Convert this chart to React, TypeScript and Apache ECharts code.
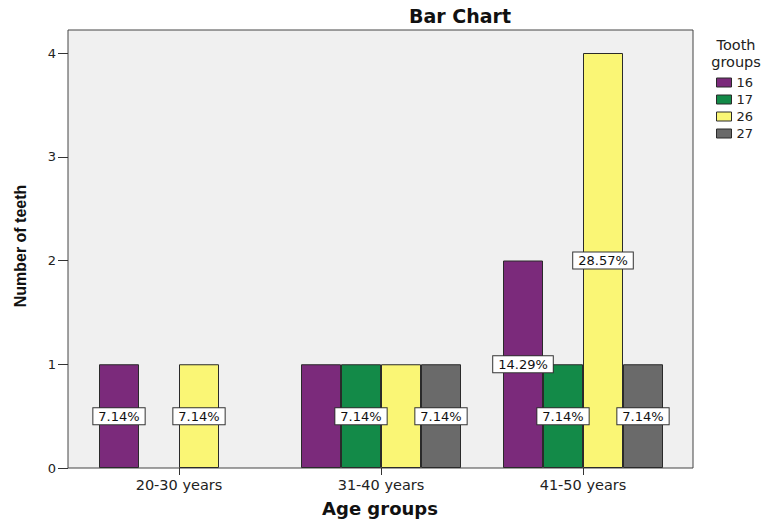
import React, { useEffect, useRef } from "react";
import * as echarts from "echarts";

const categories = ["20-30 years", "31-40 years", "41-50 years"];
const groups = ["16", "17", "26", "27"];
const counts16 = [1, 1, 2];
const counts17 = [null, 1, 1];
const counts26 = [1, 1, 4];
const counts27 = [null, 1, 1];
const pct16 = ["7.14%", null, "14.29%"];
const pct17 = [null, "7.14%", "7.14%"];
const pct26 = ["7.14%", null, "28.57%"];
const pct27 = [null, "7.14%", "7.14%"];
const yTicks = [0, 1, 2, 3, 4];

const colors = ["#7b2a7b", "#138a48", "#faf675", "#6a6a6a"];
const FONT = "DejaVu Sans";

export default function App() {
  const ref = useRef<HTMLDivElement>(null);
  useEffect(() => {
    if (!ref.current) return;
    const chart = echarts.init(ref.current, null, { renderer: "svg" });
    const counts = [counts16, counts17, counts26, counts27];
    const pcts = [pct16, pct17, pct26, pct27];
    const series = groups.map((g, si) => ({
      name: g,
      type: "bar",
      xAxisIndex: 0,
      yAxisIndex: 0,
      barWidth: 40,
      barGap: "0%",
      itemStyle: { color: colors[si], borderColor: "#2a2a2a", borderWidth: 1 },
      data: counts[si].map((v, i) => ({
        value: v === null ? "-" : v,
        label: {
          show: pcts[si][i] !== null,
          formatter: pcts[si][i] ?? "",
        },
      })),
      label: {
        position: "inside",
        backgroundColor: "#ffffff",
        borderColor: "#333",
        borderWidth: 1,
        padding: [2, 5, 1, 5],
        color: "#111",
        fontSize: 13,
        fontFamily: FONT,
      },
    }));
    chart.setOption({
      animation: false,
      backgroundColor: "#ffffff",
      grid: [
        { left: 78, right: 81, top: 53, bottom: 51 },
        {
          left: 68,
          right: 72,
          top: 30,
          bottom: 51,
          show: true,
          backgroundColor: "#f0f0f0",
          borderColor: "#444",
          borderWidth: 1,
        },
      ],
      xAxis: [
        {
          type: "category",
          gridIndex: 0,
          data: categories,
          axisLine: { show: false },
          axisTick: { show: true, alignWithLabel: true, length: 7, lineStyle: { color: "#333" } },
          axisLabel: { color: "#222", fontSize: 14.5, fontFamily: FONT, margin: 9 },
        },
        { type: "value", gridIndex: 1, show: false },
      ],
      yAxis: [
        {
          type: "value",
          gridIndex: 0,
          min: yTicks[0],
          max: yTicks[yTicks.length - 1],
          interval: 1,
          offset: 10,
          splitLine: { show: false },
          axisLine: { show: false },
          axisTick: { show: true, length: 10, lineStyle: { color: "#333" } },
          axisLabel: { color: "#222", fontSize: 13, fontFamily: FONT, margin: 12 },
        },
        { type: "value", gridIndex: 1, show: false },
      ],
      legend: {
        data: groups,
        orient: "vertical",
        left: 716,
        top: 76,
        padding: 0,
        itemWidth: 15,
        itemHeight: 9,
        itemGap: 4,
        icon: "rect",
        itemStyle: { borderColor: "#2a2a2a", borderWidth: 1 },
        textStyle: { fontSize: 13, fontFamily: FONT, color: "#222", lineHeight: 10 },
      },
      graphic: [
        {
          type: "text",
          x: 460,
          y: 16,
          style: {
            text: "Bar Chart",
            align: "center",
            verticalAlign: "middle",
            font: `bold 19px "${FONT}"`,
            fill: "#111",
          },
        },
        {
          type: "text",
          x: 380,
          y: 508,
          style: {
            text: "Age groups",
            align: "center",
            verticalAlign: "middle",
            font: `bold 18px "${FONT}"`,
            fill: "#111",
          },
        },
        {
          type: "text",
          x: 20,
          y: 246,
          rotation: Math.PI / 2,
          style: {
            text: "Number of teeth",
            align: "center",
            verticalAlign: "middle",
            font: `bold 16px "Liberation Sans"`,
            fill: "#111",
          },
        },
        {
          type: "text",
          x: 736,
          y: 53,
          style: {
            text: "Tooth\ngroups",
            align: "center",
            verticalAlign: "middle",
            fontSize: 14.5,
            fontFamily: FONT,
            lineHeight: 17,
            fill: "#222",
          },
        },
      ],
      series,
    });
    return () => chart.dispose();
  }, []);
  return (
    <div
      ref={ref}
      style={{ position: "absolute", left: 0, top: 0, width: 765, height: 519 }}
    />
  );
}
